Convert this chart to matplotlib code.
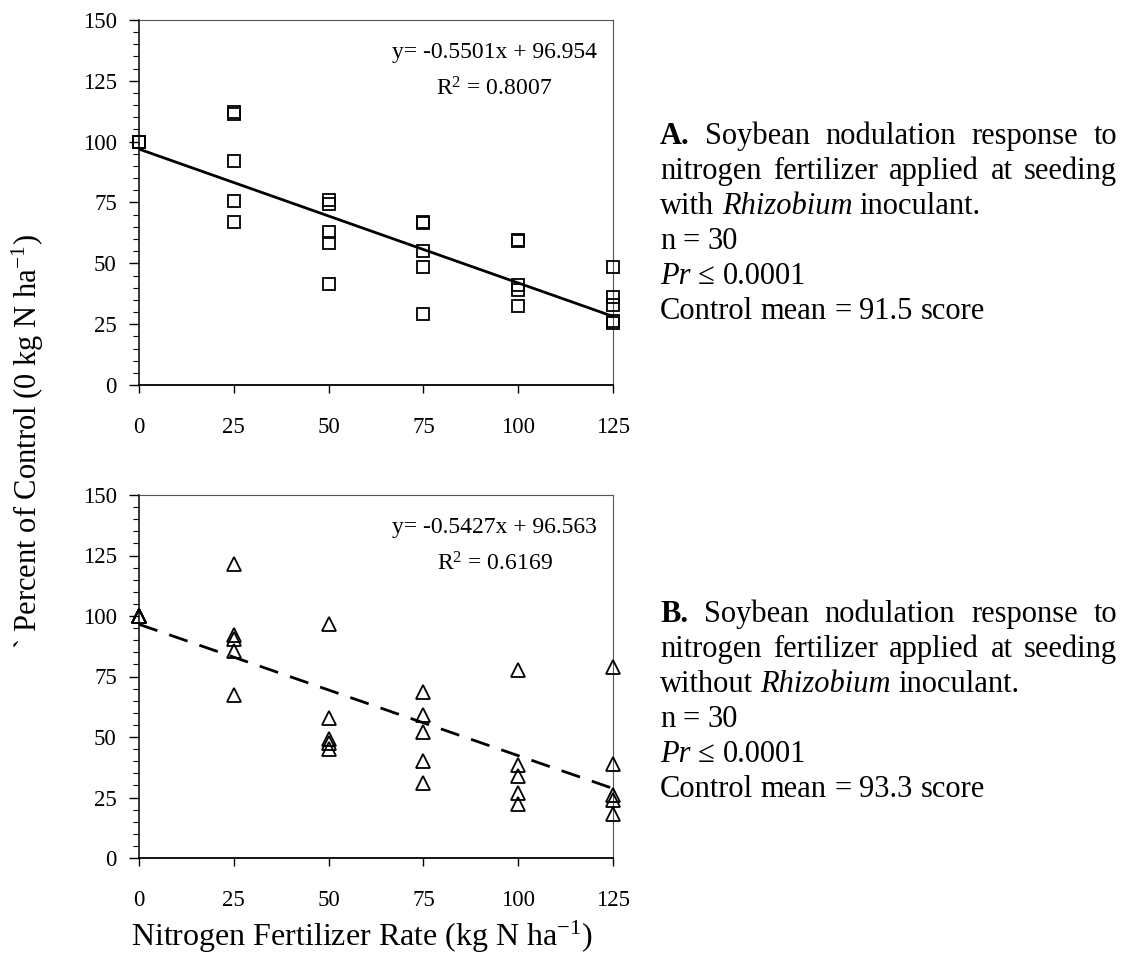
import matplotlib
matplotlib.use("Agg")
import matplotlib.pyplot as plt
from matplotlib.transforms import IdentityTransform

plt.rcParams["font.family"] = ["Liberation Serif", "DejaVu Serif"]
plt.rcParams["mathtext.fontset"] = "custom"
plt.rcParams["mathtext.rm"] = "Liberation Serif"
plt.rcParams["mathtext.it"] = "Liberation Serif:italic"

# N rates, 5 reps each
x_a = [0] * 5 + [25] * 5 + [50] * 5 + [75] * 5 + [100] * 5 + [125] * 5
y_a = [100, 100, 100, 100, 100,
       112, 111.5, 92, 75.5, 67,
       76, 74.5, 63, 58.5, 41.5,
       67, 66.5, 55, 48.5, 29,
       59.5, 59, 41, 39, 32.5,
       48.5, 36, 33, 26.5, 25.5]
x_b = x_a
y_b = [100, 100, 100, 100, 100,
       121.5, 92, 90.5, 85.5, 67.5,
       96.5, 58, 49, 47.5, 45,
       68.5, 59, 52, 40, 31,
       77.5, 38.5, 34, 26.7, 22.2,
       79, 39, 26, 24, 18]

fit_a = (-0.5501, 96.954, 0.8007)
fit_b = (-0.5427, 96.563, 0.6169)

x_ticks = [0, 25, 50, 75, 100, 125]
y_ticks = [0, 25, 50, 75, 100, 125, 150]

W, H = 1122, 964
fig = plt.figure(figsize=(W / 100, H / 100), dpi=100)

def px_axes(left, top, right, bottom):
    return fig.add_axes([left / W, 1 - bottom / H, (right - left) / W, (bottom - top) / H])

ax_a = px_axes(139, 20, 613, 385)
ax_b = px_axes(139, 495, 613, 858)


def style_axes(ax):
    ax.set_xlim(0, 125)
    ax.set_ylim(0, 150)
    ax.set_xticks(x_ticks)
    ax.set_yticks(y_ticks)
    ax.set_yticks(range(0, 151, 5), minor=True)
    ax.tick_params(axis="y", which="major", direction="out", length=7, width=1, pad=9, labelsize=16.5)
    ax.tick_params(axis="y", which="minor", direction="out", length=4, width=0.8)
    ax.tick_params(axis="x", which="major", direction="out", length=6, width=1, pad=17, labelsize=16.5)
    ax.spines["left"].set_linewidth(1.1)
    ax.spines["bottom"].set_linewidth(1.3)
    for s in ["top", "right"]:
        ax.spines[s].set_linewidth(0.8)
        ax.spines[s].set_color("#555555")


def add_fit(ax, fit, ls):
    slope, icpt, r2 = fit
    xs = [0, 125]
    ax.plot(xs, [slope * v + icpt for v in xs], color="black", lw=2.0, ls=ls, zorder=2)
    ax.text(0.75, 0.91, "y= %.4fx + %.3f" % (slope, icpt), transform=ax.transAxes,
            ha="center", va="center", fontsize=17)
    ax.text(0.75, 0.81, r"R$^2$ = %.4f" % r2, transform=ax.transAxes,
            ha="center", va="center", fontsize=17)


style_axes(ax_a)
ax_a.plot(x_a, y_a, ls="none", marker="s", ms=8.5, mfc="none", mec="black", mew=1.3, zorder=3, clip_on=False)
add_fit(ax_a, fit_a, "-")

style_axes(ax_b)
ax_b.plot(x_b, y_b, ls="none", marker="^", ms=9.5, mfc="none", mec="black", mew=1.3, zorder=3, clip_on=False)
add_fit(ax_b, fit_b, (0, (7, 4.5)))

fig.text(362 / W, 1 - 946 / H, r"Nitrogen Fertilizer Rate (kg N ha$^{-1}$)",
         ha="center", va="baseline", fontsize=23)
fig.text(28 / W, 1 - 442 / H, r"` Percent of Control (0 kg N ha$^{-1}$)",
         ha="center", va="center", rotation=90, fontsize=22)

# caption blocks, word by word so lines can be justified
renderer = fig.canvas.get_renderer()
FS = 22
norm = {}
ital = {"style": "italic"}
bold = {"weight": "bold"}


def measure(s, kw):
    t = fig.text(0, 0, s, fontsize=FS, **kw)
    w = t.get_window_extent(renderer).width
    t.remove()
    return w


space_w = measure("n n", norm) - measure("nn", norm)


def put_line(runs, x0, baseline, width=None):
    texts = [fig.text(0, 0, s, fontsize=FS, transform=IdentityTransform(), va="baseline", **kw)
             for s, kw in runs]
    widths = [t.get_window_extent(renderer).width for t in texts]
    gap = space_w if width is None else (width - sum(widths)) / (len(texts) - 1)
    x = x0
    for t, w in zip(texts, widths):
        t.set_position((x, H - baseline))
        x += w + gap


def words(s, kw=norm):
    return [(w, kw) for w in s.split()]


def caption(letter, mid, ctrl, top):
    lines = [
        ([(letter, bold)] + words("Soybean nodulation response to"), True),
        (words("nitrogen fertilizer applied at seeding"), True),
        (words(mid) + [("Rhizobium", ital)] + words("inoculant."), False),
        (words("n = 30"), False),
        ([("Pr", ital), ("\u2264", norm), ("0.0001", norm)], False),
        (words("Control mean = %s score" % ctrl), False),
    ]
    for i, (runs, just) in enumerate(lines):
        put_line(runs, 660, top + 35 * i, 1117 - 660 if just else None)


caption("A.", "with", "91.5", 144)
caption("B.", "without", "93.3", 622)

fig.savefig("out.png", dpi=100)
